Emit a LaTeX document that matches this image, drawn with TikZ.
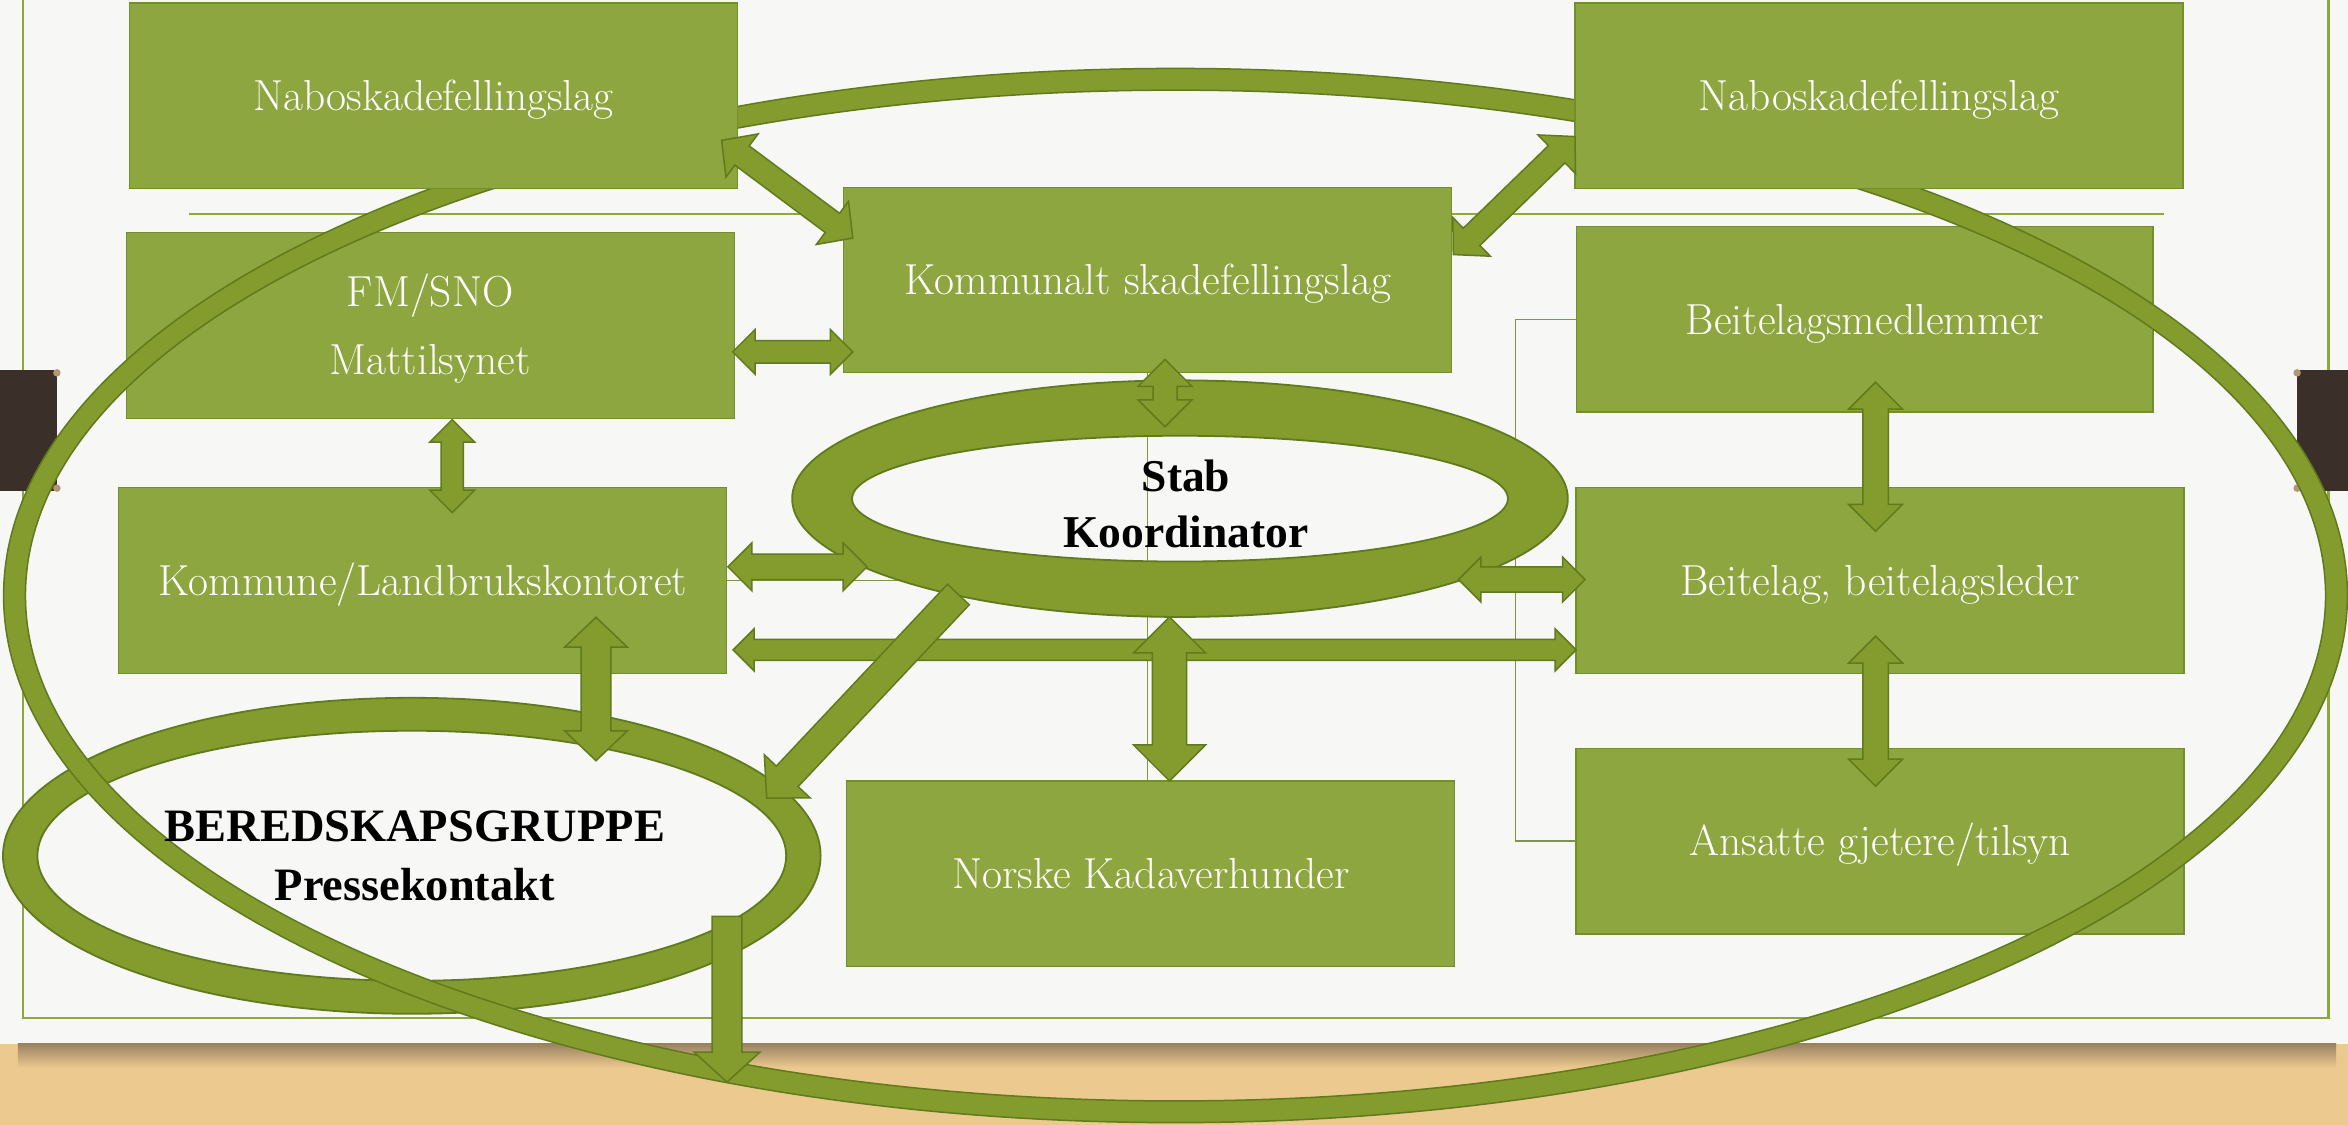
\documentclass[tikz,border=0pt]{standalone}
\usepackage{fontspec}
\newfontfamily\stabfont{Liberation Serif}
\usetikzlibrary{calc}

\definecolor{paper}{HTML}{F7F7F6}
\definecolor{wood}{HTML}{ECC98E}
\definecolor{woodshade}{HTML}{9A8262}
\definecolor{boxgreen}{HTML}{8DA63F}
\definecolor{boxedge}{HTML}{738F2C}
\definecolor{arrowgreen}{HTML}{849B2E}
\definecolor{arrowedge}{HTML}{607A1C}
\definecolor{rulegreen}{HTML}{8EA83D}
\definecolor{clipbrown}{HTML}{3A3029}
\definecolor{clipnub}{HTML}{B39774}

\tikzset{
  unitbox/.style={draw=boxedge, line width=0.8pt, fill=boxgreen, minimum width=406pt, minimum height=124pt,
    inner sep=0pt, outer sep=0pt, text=white, align=center, font=\fontsize{29}{45}\selectfont,
    text height=19.8pt, text depth=0pt},
  ring/.style={fill=arrowgreen, draw=arrowedge, line width=1.2pt, even odd rule},
  blockarrow/.style={fill=arrowgreen, draw=arrowedge, line width=1pt, line join=miter},
  orgline/.style={draw=arrowedge!80!white, line width=0.9pt},
  frameline/.style={draw=rulegreen, line width=1.6pt},
  ringtext/.style={align=center, inner sep=0pt, text height=57.7pt, text depth=0pt,
    font=\stabfont\bfseries\fontsize{30.4}{37.6}\selectfont}
}

% double block arrow: ends, shaft half width, head half width, head length
\newcommand{\twoway}[5]{%
  \coordinate (tipa) at ($(#1)!#5!(#2)$);
  \coordinate (tipb) at ($(#2)!#5!(#1)$);
  \draw[blockarrow] (#1) -- ($(tipa)!#4!90:(#2)$) -- ($(tipa)!#3!90:(#2)$)
    -- ($(tipb)!#3!-90:(#1)$) -- ($(tipb)!#4!-90:(#1)$) -- (#2)
    -- ($(tipb)!#4!90:(#1)$) -- ($(tipb)!#3!90:(#1)$)
    -- ($(tipa)!#3!-90:(#2)$) -- ($(tipa)!#4!-90:(#2)$) -- cycle;
}
% single block arrow: flat end, tip, shaft half width, head half width, head length
\newcommand{\oneway}[5]{%
  \coordinate (tipb) at ($(#2)!#5!(#1)$);
  \draw[blockarrow] ($(#1)!#3!90:(#2)$) -- ($(tipb)!#3!-90:(#1)$) -- ($(tipb)!#4!-90:(#1)$)
    -- (#2) -- ($(tipb)!#4!90:(#1)$) -- ($(tipb)!#3!90:(#1)$) -- ($(#1)!#3!-90:(#2)$) -- cycle;
}

\begin{document}
\begin{tikzpicture}[x=1pt, y={(0pt,-1pt)}]
  \useasboundingbox (0,0) rectangle (1568,751);
  \fill[paper] (0,0) rectangle (1568,697);
  \fill[wood] (0,697) rectangle (1568,751);
  \shade[top color=woodshade, bottom color=wood] (12,697) rectangle (1560,713);

  \draw[frameline] (15.5,0) -- (15.5,680) -- (1555,680) -- (1555,0);
  \draw[frameline, line width=1.3pt] (126,143) -- (1445,143);
  \fill[clipbrown] (0,247) rectangle (38,328);
  \fill[clipbrown] (1534,247) rectangle (1568,328);
  \foreach \cx in {38,1534}
    \foreach \cy in {249,326}
      \fill[clipnub] (\cx,\cy) circle (2.5pt);

  \node[unitbox] (kommunalt) at (766.5,187) {Kommunalt skadefellingslag};
  \node[unitbox, text height=64.8pt] (fm) at (287.3,217.5) {FM/SNO\\Mattilsynet};
  \node[unitbox, minimum width=385pt] (medlem) at (1245.3,213.2) {Beitelagsmedlemmer};
  \node[unitbox] (kommune) at (282.4,387.5) {Kommune/Landbrukskontoret};
  \node[unitbox] (beitelag) at (1255.5,387.6) {Beitelag, beitelagsleder};
  \node[unitbox] (ansatte) at (1255.5,561.7) {Ansatte gjetere/tilsyn};
  \node[unitbox] (norske) at (768.5,583.5) {Norske Kadaverhunder};

  \coordinate (bus) at (1012,387.5);
  \draw[orgline] (kommunalt.south) -- (kommunalt.south |- norske.north);
  \draw[orgline] (kommune.east) -- (bus);
  \draw[orgline] (medlem.west) -| (bus) |- (ansatte.west);

  \coordinate (stab) at (788,333);
  \coordinate (ber) at (275,571.5);
  \coordinate (loop) at (785,397.7);
  \draw[ring] (stab) ellipse [x radius=259pt, y radius=79pt] (stab) ellipse [x radius=219pt, y radius=42pt];
  \draw[ring] (ber) ellipse [x radius=273pt, y radius=105.5pt] (ber) ellipse [x radius=250pt, y radius=83.5pt];
  \draw[ring, line width=1pt] (loop) ellipse [x radius=782.6pt, y radius=352pt]
    (loop) ellipse [x radius=768pt, y radius=337.5pt];

  \node[unitbox] (nabL) at (289.4,64) {Naboskadefellingslag};
  \node[unitbox] (nabR) at (1254.8,64) {Naboskadefellingslag};

  \coordinate (a1s) at ($(nabL.south east)+(-10.5,-32.3)$);
  \coordinate (a1e) at ($(kommunalt.north west)+(6,34)$);
  \coordinate (a2s) at ($(kommunalt.north east)+(1,45)$);
  \coordinate (a2e) at ($(nabR.south west)+(0,-34.8)$);
  \coordinate (a3s) at ($(fm.east)+(-1,17.5)$);
  \coordinate (a3e) at ($(kommunalt.west)+(6,48)$);
  \coordinate (a4s) at ($(kommunalt.south)+(11.5,-9)$);
  \coordinate (a4e) at ($(stab)+(-10,-48)$);
  \coordinate (a5s) at ($(fm.south)+(14.7,0.7)$);
  \coordinate (a5e) at ($(kommune.north)+(19.6,16.8)$);
  \coordinate (a6s) at ($(medlem.south)+(7.2,-20)$);
  \coordinate (a6e) at ($(beitelag.north)+(-3,29.2)$);
  \coordinate (a7s) at ($(beitelag.south)+(-3,-24.8)$);
  \coordinate (a7e) at ($(ansatte.north)+(-3,25.3)$);
  \coordinate (a8s) at ($(kommune.east)+(0.7,-9)$);
  \coordinate (a8e) at ($(stab)+(-209,45.5)$);
  \coordinate (a9s) at ($(stab)+(186,54)$);
  \coordinate (a9e) at ($(beitelag.west)+(6,-0.6)$);
  \coordinate (a10s) at ($(kommune.east)+(4.2,46.5)$);
  \coordinate (a10e) at ($(beitelag.west)+(0,46.4)$);
  \coordinate (a11s) at ($(stab)+(-7,79)$);
  \coordinate (a11e) at ($(norske.north)+(12.5,0)$);
  \coordinate (a12s) at ($(stab)+(-148,64)$);
  \coordinate (a12e) at ($(ber)+(237,-38.5)$);
  \coordinate (a13s) at ($(kommune.south)+(115.6,-37.3)$);
  \coordinate (a13e) at ($(ber)+(123,-63.5)$);
  \coordinate (a14s) at ($(ber)+(210.5,40.5)$);
  \coordinate (a14e) at (485.5,722.6);

  \twoway{a1s}{a1e}{8pt}{18pt}{17pt}
  \twoway{a2s}{a2e}{8pt}{18pt}{17pt}
  \twoway{a3s}{a3e}{7.5pt}{15pt}{15pt}
  \twoway{a4s}{a4e}{8pt}{18pt}{18pt}
  \twoway{a5s}{a5e}{7.5pt}{15pt}{15pt}
  \twoway{a6s}{a6e}{8.5pt}{18pt}{18pt}
  \twoway{a7s}{a7e}{8.5pt}{18pt}{18pt}
  \twoway{a8s}{a8e}{8.5pt}{16pt}{16pt}
  \twoway{a9s}{a9e}{8.5pt}{15pt}{15pt}
  \twoway{a10s}{a10e}{7pt}{14pt}{14pt}
  \twoway{a11s}{a11e}{11.5pt}{24pt}{24pt}
  \oneway{a12s}{a12e}{10pt}{21pt}{20pt}
  \twoway{a13s}{a13e}{10pt}{21pt}{20pt}
  \oneway{a14s}{a14e}{10pt}{22pt}{20pt}

  \node[ringtext] (stablabel) at ($(stab)+(4,4)$) {Stab\\Koordinator};
  \node[ringtext, text height=59.5pt, font=\stabfont\bfseries\fontsize{31}{39}\selectfont]
    (berlabel) at ($(ber)+(2,0)$) {BEREDSKAPSGRUPPE\\Pressekontakt};
\end{tikzpicture}
\end{document}
